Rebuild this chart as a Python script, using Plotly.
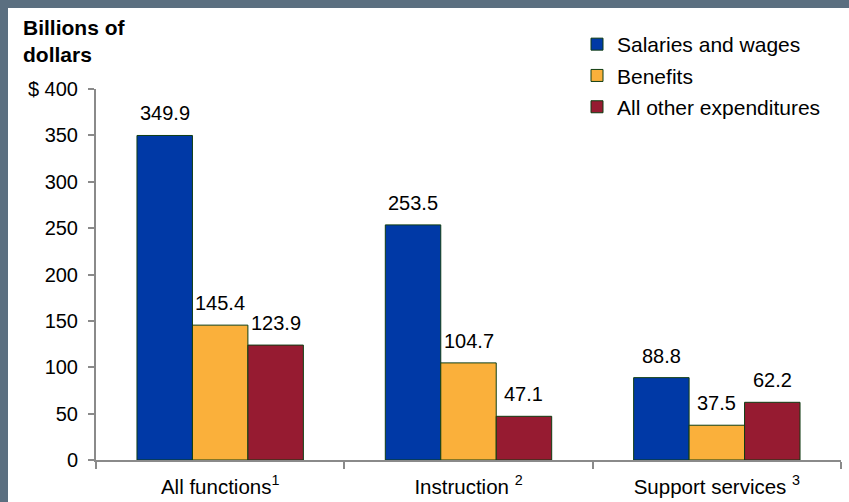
import plotly.graph_objects as go

# chart data
categories = ["All functions<sup>1</sup>", "Instruction <sup>2</sup>", "Support services <sup>3</sup>"]
series_names = ["Salaries and wages", "Benefits", "All other expenditures"]
salaries = [349.9, 253.5, 88.8]
benefits = [145.4, 104.7, 37.5]
other = [123.9, 47.1, 62.2]
series_values = [salaries, benefits, other]
y_tickvals = [0, 50, 100, 150, 200, 250, 300, 350, 400]
y_ticktext = ["0", "50", "100", "150", "200", "250", "300", "350", "$ 400"]

colors = ["#0039a6", "#fab03b", "#961b31"]
edge = "#0f3d12"
axis_gray = "#8a8a8a"
border = "#5b6f80"
font_family = "Liberation Sans, Arial, sans-serif"

W, H = 849, 502
ml, mr, mt, mb = 96, 8, 89, 42
pw, ph = W - ml - mr, H - mt - mb
bargap = 0.33
bar_px = pw / len(categories) * (1 - bargap) / len(series_names)

def px_x(p):
    return (p - ml) / pw

def px_y(p):
    return (H - mb - p) / ph

fig = go.Figure()
for i, (name, vals) in enumerate(zip(series_names, series_values)):
    fig.add_trace(go.Bar(
        x=categories, y=vals, name=name,
        marker=dict(color=colors[i], line=dict(color=edge, width=1)),
        legendgroup=name,
    ))
    # value labels above bars
    for c, v in zip(categories, vals):
        fig.add_annotation(
            x=c, y=v, text=f"{v:.1f}", showarrow=False,
            xshift=(i - 1) * bar_px, yanchor="bottom", yshift=9,
            font=dict(size=20, color="black", family=font_family),
        )

# title
fig.add_annotation(
    xref="paper", yref="paper", x=px_x(21), y=px_y(14),
    xanchor="left", yanchor="top", align="left", showarrow=False,
    text="<b>Billions of<br>dollars</b>",
    font=dict(size=21, color="black", family=font_family),
)

# frame strips (top and left)
fig.add_shape(type="rect", xref="paper", yref="paper",
              x0=px_x(0), x1=px_x(8), y0=px_y(H), y1=px_y(0),
              fillcolor=border, line_width=0, layer="below")
fig.add_shape(type="rect", xref="paper", yref="paper",
              x0=px_x(0), x1=px_x(W), y0=px_y(8), y1=px_y(0),
              fillcolor=border, line_width=0, layer="below")

fig.update_layout(
    width=W, height=H,
    margin=dict(l=ml, r=mr, t=mt, b=mb),
    paper_bgcolor="white", plot_bgcolor="white",
    barmode="group", bargap=bargap, bargroupgap=0,
    font=dict(family=font_family, size=20, color="black"),
    legend=dict(
        x=px_x(577), y=px_y(24), xanchor="left", yanchor="top",
        font=dict(size=21, color="black"),
        traceorder="grouped", tracegroupgap=1, itemwidth=30,
        bgcolor="rgba(0,0,0,0)",
    ),
    showlegend=True,
)
fig.update_xaxes(
    automargin=False,
    showline=True, linecolor=axis_gray, linewidth=2,
    ticks="outside", tickson="boundaries", ticklen=7, tickcolor=axis_gray, tickwidth=2,
    showgrid=False, ticklabelstandoff=7, tickfont=dict(size=20.5, color="black"),
)
fig.update_yaxes(
    automargin=False,
    range=[0, 400], tickvals=y_tickvals, ticktext=y_ticktext,
    showline=True, linecolor=axis_gray, linewidth=2,
    ticks="outside", ticklen=6, tickcolor=axis_gray, tickwidth=2,
    showgrid=False, zeroline=False, ticklabelstandoff=6,
    tickfont=dict(size=20, color="black"),
)

fig.write_html("out.html", config={"displayModeBar": False},
               post_script="document.body.style.margin='0';")
